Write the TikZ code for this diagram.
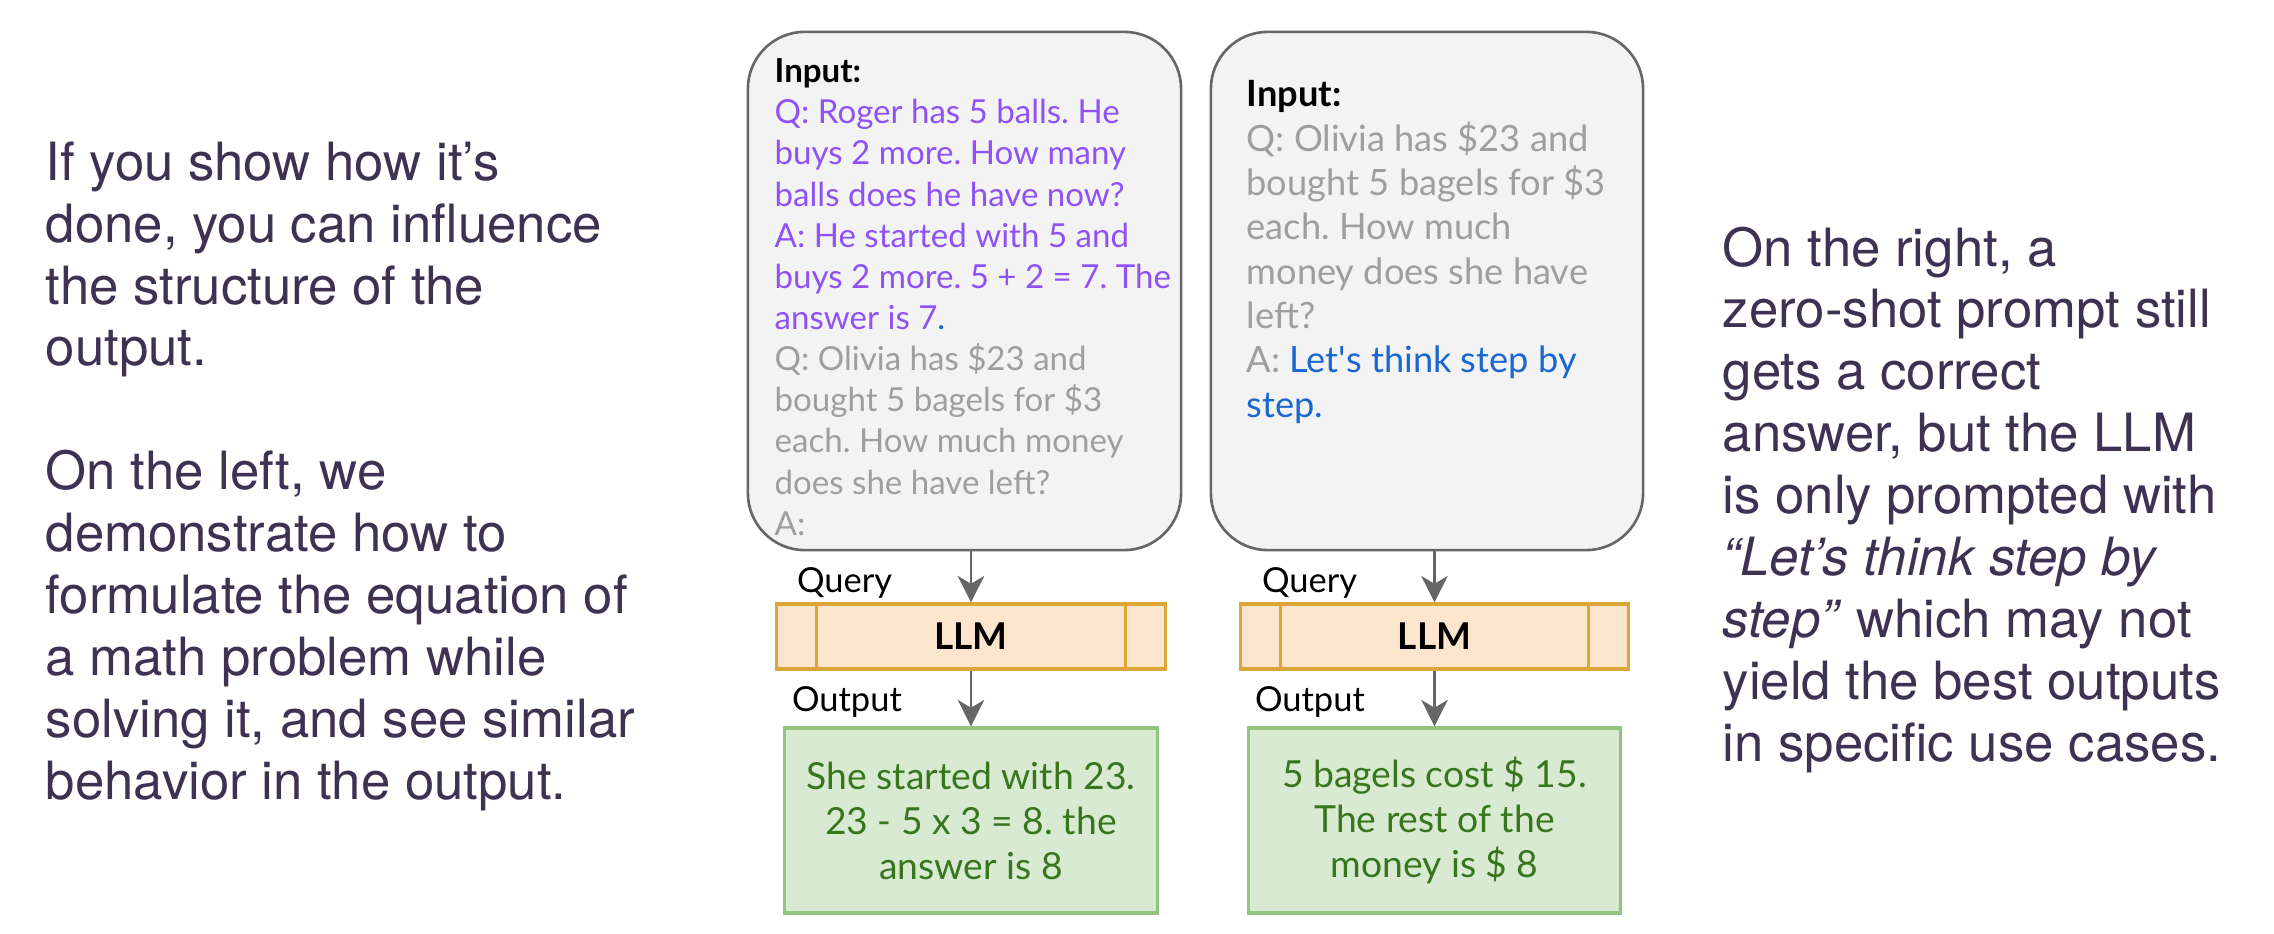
\documentclass[tikz,border=0pt]{standalone}
\usepackage{fontspec}
\setmainfont{TeX Gyre Heros}
\newfontfamily\gsans{Lato}
\usepackage{tikz}
\usetikzlibrary{calc,positioning,arrows.meta}

\definecolor{paratext}{RGB}{62,50,82}
\definecolor{boxfill}{RGB}{243,243,243}
\definecolor{boxline}{RGB}{102,102,102}
\definecolor{fewshot}{RGB}{143,82,247}
\definecolor{prompt}{RGB}{158,158,158}
\definecolor{cue}{RGB}{26,103,210}
\definecolor{llmfill}{RGB}{252,229,205}
\definecolor{llmline}{RGB}{222,166,55}
\definecolor{outfill}{RGB}{217,234,211}
\definecolor{outborder}{RGB}{147,196,125}
\definecolor{outtext}{RGB}{56,118,29}

\newcommand{\fs}[1]{\textcolor{fewshot}{#1}}
\newcommand{\pr}[1]{\textcolor{prompt}{#1}}
\newcommand{\cu}[1]{\textcolor{cue}{#1}}
\frenchspacing

\begin{document}
% one unit = one pixel of the original, y runs downwards
\begin{tikzpicture}[x=0.01cm,y=-0.01cm,inner sep=0pt,
  inbox/.style={draw=boxline,fill=boxfill,line width=0.75pt,rounded corners=0.57cm,minimum width=4.33cm,minimum height=5.18cm},
  intext/.style={anchor=north west,align=left},
  llm/.style={draw=llmline,fill=llmfill,line width=0.9pt,minimum height=0.65cm,font=\gsans\bfseries\fontsize{10.5}{12}\selectfont},
  outbox/.style={draw=outborder,fill=outfill,line width=0.9pt,minimum width=3.72cm,minimum height=1.85cm,align=center,text=outtext,font=\gsans\fontsize{10.6}{12.8}\selectfont},
  para/.style={anchor=north west,align=left,text=paratext,font=\fontsize{15}{17.6}\selectfont},
  lbl/.style={anchor=west,font=\gsans\fontsize{9.8}{11}\selectfont},
  flow/.style={draw=boxline,line width=0.85pt,-{Stealth[length=7.5pt,width=7.5pt,inset=2.2pt]}}]
\useasboundingbox (0,0) rectangle (2274,934);

\node (paraL) at (45,141)[para]{If you show how it’s\\done, you can influence\\the structure of the\\output.\\[17.6pt]On the left, we\\demonstrate how to\\formulate the equation of\\a math problem while\\solving it, and see similar\\behavior in the output.};
\node (paraR) at (1722,226)[para]{On the right, a\\zero-shot prompt still\\gets a correct\\answer, but the LLM\\is only prompted with\\\textit{“Let’s think step by}\\\textit{step”} which may not\\yield the best outputs\\in specific use cases.};

% few-shot side
\node (inL) at (964.5,291)[inbox]{};
\node (txtL) at (774,58)[intext,font=\gsans\fontsize{9.4}{11.7}\selectfont]{\textbf{Input:}\\
\fs{Q: Roger has 5 balls. He}\\
\fs{buys 2 more. How many}\\
\fs{balls does he have now?}\\
\fs{A: He started with 5 and}\\
\fs{buys 2 more. 5 + 2 = 7. The}\\
\fs{answer is 7}\cu{.}\\
\pr{Q: Olivia has \$23 and}\\
\pr{bought 5 bagels for \$3}\\
\pr{each. How much money}\\
\pr{does she have left?}\\
\pr{A:}};
\node (llmL) at (971,636.5)[llm,minimum width=3.88cm]{LLM};
\node (outL) at (971,820.5)[outbox]{She started with 23.\\23 - 5 x 3 = 8. the\\answer is 8};
\node (qryL) at ($(llmL.north west)+(21,-19)$)[lbl]{Query};
\node (resL) at ($(llmL.south west)+(16,31)$)[lbl]{Output};

% zero-shot side
\node (inR) at (1427,291)[inbox,minimum width=4.32cm]{};
\node (txtR) at (1246,80)[intext,font=\gsans\fontsize{10.3}{12.6}\selectfont]{\textbf{Input:}\\
\pr{Q: Olivia has \$23 and}\\
\pr{bought 5 bagels for \$3}\\
\pr{each. How much}\\
\pr{money does she have}\\
\pr{left?}\\
\pr{A: }\cu{Let\textquotesingle s think step by}\\
\cu{step.}};
\node (llmR) at (1434.5,636.5)[llm,minimum width=3.87cm]{LLM};
\node (outR) at (1434.5,820.5)[outbox,minimum width=3.71cm]{5 bagels cost \$ 15.\\The rest of the\\money is \$ 8};
\node (qryR) at ($(llmR.north west)+(22,-19)$)[lbl]{Query};
\node (resR) at ($(llmR.south west)+(15,31)$)[lbl]{Output};

\draw[llmline,line width=0.9pt] ($(llmL.north west)+(41,0)$) -- ($(llmL.south west)+(41,0)$) ($(llmL.north east)+(-41,0)$) -- ($(llmL.south east)+(-41,0)$);
\draw[llmline,line width=0.9pt] ($(llmR.north west)+(41,0)$) -- ($(llmR.south west)+(41,0)$) ($(llmR.north east)+(-41,0)$) -- ($(llmR.south east)+(-41,0)$);

\draw[flow] (llmL.north |- inL.south) -- (llmL.north);
\draw[flow] (llmL.south) -- (outL.north);
\draw[flow] (llmR.north |- inR.south) -- (llmR.north);
\draw[flow] (llmR.south) -- (outR.north);

\end{tikzpicture}
\end{document}
